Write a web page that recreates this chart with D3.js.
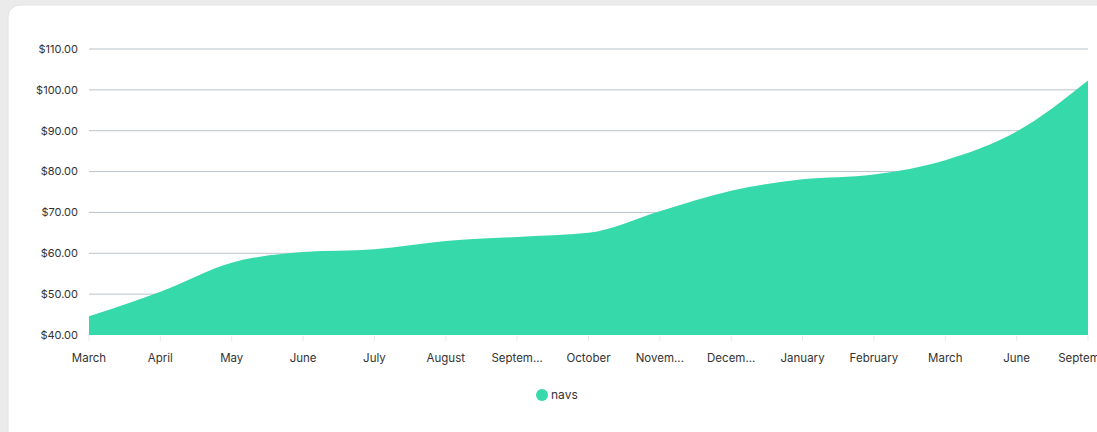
<!DOCTYPE html>
<html><head><meta charset="utf-8">
<script src="https://cdn.jsdelivr.net/npm/d3@7/dist/d3.min.js"></script>
<style>
html,body{margin:0;padding:0;background:#ebebeb;}
svg{display:block;}
</style></head>
<body>
<svg id="chart" width="1097" height="432"></svg>
<script>
const categories = ["March","April","May","June","July","August","Septem...","October","Novem...","Decem...","January","February","March","June","September"];
const navs = [44.6, 50.6, 57.7, 60.3, 61.0, 63.0, 64.0, 65.0, 70.3, 75.3, 78.1, 79.3, 82.8, 89.8, 102.3];
const yTicks = [40, 50, 60, 70, 80, 90, 100, 110];
const seriesName = "navs";

const svg = d3.select("#chart");
svg.append("rect").attr("x", 8).attr("y", 5).attr("width", 1120).attr("height", 440)
  .attr("rx", 12).attr("fill", "#ffffff").attr("stroke", "#e2e2e2");

const idx = d3.range(categories.length);
const x = d3.scalePoint().domain(idx).range([89, 1088]);
const y = d3.scaleLinear().domain([40, 110]).range([335, 49]);

const font = "Inter, 'Open Sans', sans-serif";

// gridlines
svg.append("g").selectAll("line").data(yTicks.slice(1)).join("line")
  .attr("x1", 89).attr("x2", 1088)
  .attr("y1", d => y(d)).attr("y2", d => y(d))
  .attr("stroke", "#b9c3cc").attr("stroke-width", 1);

// y labels
svg.append("g").selectAll("text").data(yTicks).join("text")
  .attr("x", 78).attr("y", d => y(d)).attr("dy", "0.35em")
  .attr("text-anchor", "end").attr("font-family", font).attr("font-size", 11)
  .attr("fill", "#333").text(d => "$" + d.toFixed(2));

// area
const area = d3.area()
  .x((d, i) => x(i))
  .y0(y(40)).y1(d => y(d))
  .curve(d3.curveMonotoneX);
svg.append("path").datum(navs).attr("d", area).attr("fill", "#35d9aa");

// x ticks
svg.append("g").selectAll("line").data(idx).join("line")
  .attr("x1", d => x(d)).attr("x2", d => x(d))
  .attr("y1", 336).attr("y2", 341).attr("stroke", "#e6e9ec");

// x labels
svg.append("g").selectAll("text").data(idx).join("text")
  .attr("x", d => x(d)).attr("y", 362)
  .attr("text-anchor", "middle").attr("font-family", font).attr("font-size", 11.5)
  .attr("fill", "#333").text(d => categories[d]);

// legend
const lg = svg.append("g");
lg.append("circle").attr("cx", 542).attr("cy", 395).attr("r", 6).attr("fill", "#35d9aa");
lg.append("text").attr("x", 551).attr("y", 395).attr("dy", "0.35em")
  .attr("font-family", font).attr("font-size", 12).attr("fill", "#333").text(seriesName);
</script>
</body></html>
